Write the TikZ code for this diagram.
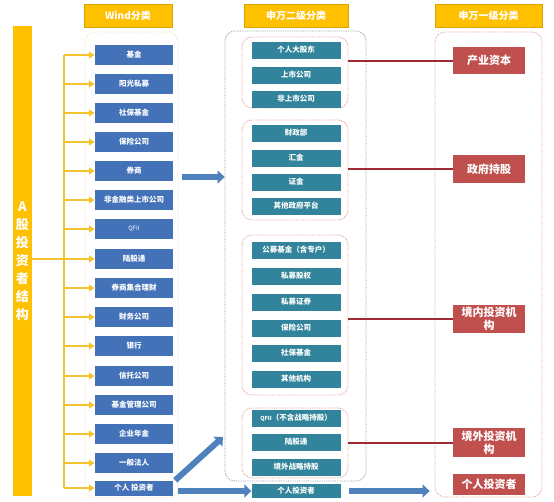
\documentclass[tikz,border=0pt]{standalone}
\usepackage{fontspec}
\setmainfont{Noto Sans CJK SC}
\usetikzlibrary{arrows.meta, positioning, calc}
\definecolor{hdorange}{HTML}{FFC000}
\definecolor{linkyellow}{HTML}{F4C430}
\definecolor{windblue}{HTML}{4472B8}
\definecolor{swteal}{HTML}{31849B}
\definecolor{swred}{HTML}{C0504D}
\definecolor{linkred}{HTML}{9E2A33}
\definecolor{bigblue}{HTML}{4F81BD}
\definecolor{grpbeige}{HTML}{F3DDB0}
\definecolor{grpgray}{HTML}{8E98A8}
\definecolor{grppink}{HTML}{E39595}

\begin{document}
\begin{tikzpicture}[x=1pt, y=-1pt,
    header/.style={rectangle, draw=hdorange!85!black, fill=hdorange, text=white,
                   minimum width=#1, minimum height=23pt, inner sep=0pt,
                   font=\fontsize{10}{12}\selectfont\bfseries},
    windbox/.style={rectangle, fill=windblue, text=white, minimum width=78pt,
                    minimum height=20pt, inner sep=0pt, font=\fontsize{7.5}{9}\selectfont\bfseries},
    swbox/.style={rectangle, fill=swteal, text=white, minimum width=89pt,
                  minimum height=17pt, inner sep=0pt, font=\fontsize{7.5}{9}\selectfont\bfseries},
    redbox/.style={rectangle, fill=swred, text=white, minimum width=72pt, align=center,
                   inner sep=0pt, font=\fontsize{11}{13}\selectfont\bfseries},
    grp/.style={rectangle, rounded corners=10pt, draw=#1, densely dotted, line width=0.8pt},
    yline/.style={line width=1.8pt, color=linkyellow},
    yarrow/.style={-{Triangle[length=6pt, width=7pt]}, line width=1.8pt, color=linkyellow},
    fatarrow/.style={-{Triangle[length=7pt, width=13pt]}, line width=6pt, color=bigblue},
    redline/.style={line width=2pt, color=linkred}
]
\useasboundingbox (0,0) rectangle (554,501);

% column headers
\node[header=88pt]  (hwind) at (128,15.5)   {Wind分类};
\node[header=104pt] (hsw2)  at (296,15.5)   {申万二级分类};
\node[header=107pt] (hsw1)  at (488.5,15.5) {申万一级分类};

% dotted groups
\node[grp=grpbeige, minimum width=93pt,  minimum height=466pt] (windgrp) at (131.5,265) {};
\node[grp=grpgray,  minimum width=141pt, minimum height=450pt] (midgrp)  at (295.5,256) {};
\node[grp=grppink,  minimum width=106pt, minimum height=71pt]  (g1)      at (295,72.5)  {};
\node[grp=grppink,  minimum width=106pt, minimum height=100pt] (g2)      at (295,170)   {};
\node[grp=grppink,  minimum width=106pt, minimum height=160pt] (g3)      at (295,315)   {};
\node[grp=grppink,  minimum width=106pt, minimum height=70pt]  (g4)      at (295,443)   {};
\node[grp=grppink,  minimum width=107pt, minimum height=465pt] (rightgrp) at (488.5,264.5) {};

% left bar
\node[rectangle, fill=hdorange, text=white, minimum width=19pt, minimum height=470pt,
      inner sep=0pt, align=center, font=\fontsize{13}{18}\selectfont\bfseries]
      (bar) at (22.5,261) {A\\股\\投\\资\\者\\结\\构};

% Wind classes
\node[windbox] (jj)   at (134,55)  {基金};
\node[windbox] (ygsm) at (134,84)  {阳光私募};
\node[windbox] (sbjj) at (134,113) {社保基金};
\node[windbox] (bxgs) at (134,142) {保险公司};
\node[windbox] (qs)   at (134,171) {券商};
\node[windbox] (fjr)  at (134,200) {非金融类上市公司};
\node[windbox, font=\fontsize{6}{7}\selectfont] (qfii) at (134,229) {QFII};
\node[windbox] (lgt)  at (134,259) {陆股通};
\node[windbox] (qsjh) at (134,288) {券商集合理财};
\node[windbox] (cwgs) at (134,317) {财务公司};
\node[windbox] (yh)   at (134,346) {银行};
\node[windbox] (xt)   at (134,376) {信托公司};
\node[windbox] (jjgl) at (134,405) {基金管理公司};
\node[windbox] (qynj) at (134,434) {企业年金};
\node[windbox] (ybfr) at (134,463) {一般法人};
\node[windbox, minimum height=15pt] (grtz) at (134,488) {个人 投资者};

% Shenwan level 2
\node[swbox] (dgd)   at (296,50)  {个人大股东};
\node[swbox] (ssgs)  at (296,75)  {上市公司};
\node[swbox] (fss)   at (296,99)  {非上市公司};
\node[swbox] (czb)   at (296,133) {财政部};
\node[swbox] (hj)    at (296,158) {汇金};
\node[swbox] (zj)    at (296,182) {证金};
\node[swbox] (qtzf)  at (296,206) {其他政府平台};
\node[swbox] (gmjj)  at (296,250) {公募基金（含专户）};
\node[swbox] (smgq)  at (296,276) {私募股权};
\node[swbox] (smzq)  at (296,302) {私募证券};
\node[swbox] (bx2)   at (296,328) {保险公司};
\node[swbox] (sb2)   at (296,353) {社保基金};
\node[swbox] (qtjg)  at (296,379) {其他机构};
\node[swbox] (qfii2) at (296,418) {{\fontsize{5.5}{7}\selectfont QFII}（不含战略持股）};
\node[swbox] (lgt2)  at (296,442) {陆股通};
\node[swbox] (jwzl)  at (296,467) {境外战略持股};
\node[swbox, minimum height=14pt] (grtz2) at (296,491) {个人投资者};

% Shenwan level 1
\node[redbox, minimum height=27pt] (cyzb)  at (489,60.5)  {产业资本};
\node[redbox, minimum height=28pt] (zfcg)  at (489,169)   {政府持股};
\node[redbox, minimum height=28pt] (jnjg)  at (489,319)   {境内投资机\\构};
\node[redbox, minimum height=29pt] (jwjg)  at (489,442.5) {境外投资机\\构};
\node[redbox, minimum height=21pt] (grtz3) at (489,484.5) {个人投资者};

% yellow links
\coordinate (spine) at (64,0);
\draw[yline]  (spine |- jj) -- (spine |- grtz);
\draw[yarrow] (bar.east |- lgt) -- (lgt.west);
\draw[yarrow] (spine |- jj)   -- (jj.west);
\draw[yarrow] (spine |- ygsm) -- (ygsm.west);
\draw[yarrow] (spine |- sbjj) -- (sbjj.west);
\draw[yarrow] (spine |- bxgs) -- (bxgs.west);
\draw[yarrow] (spine |- qs)   -- (qs.west);
\draw[yarrow] (spine |- fjr)  -- (fjr.west);
\draw[yarrow] (spine |- qfii) -- (qfii.west);
\draw[yarrow] (spine |- qsjh) -- (qsjh.west);
\draw[yarrow] (spine |- cwgs) -- (cwgs.west);
\draw[yarrow] (spine |- yh)   -- (yh.west);
\draw[yarrow] (spine |- xt)   -- (xt.west);
\draw[yarrow] (spine |- jjgl) -- (jjgl.west);
\draw[yarrow] (spine |- qynj) -- (qynj.west);
\draw[yarrow] (spine |- ybfr) -- (ybfr.west);
\draw[yarrow] (spine |- grtz) -- (grtz.west);

% big blue arrows
\coordinate (diagend) at (223,437);
\draw[fatarrow] ([xshift=4pt, yshift=-6pt]windgrp.east |- qs) -- ([yshift=-6pt]midgrp.west |- qs);
\draw[fatarrow] ([xshift=2pt]grtz.north east) -- (diagend);
\draw[fatarrow] ([xshift=5pt]grtz.east |- grtz2) -- (grtz2.west);
\draw[fatarrow] ([xshift=8pt]grtz2.east) -- ([xshift=-5pt]rightgrp.west |- grtz2);

% red links
\draw[redline] (g1.east |- cyzb) -- (cyzb.west);
\draw[redline] (g2.east |- zfcg) -- (zfcg.west);
\draw[redline] (g3.east |- jnjg) -- (jnjg.west);
\draw[redline] (g4.east |- jwjg) -- (jwjg.west);
\end{tikzpicture}
\end{document}
